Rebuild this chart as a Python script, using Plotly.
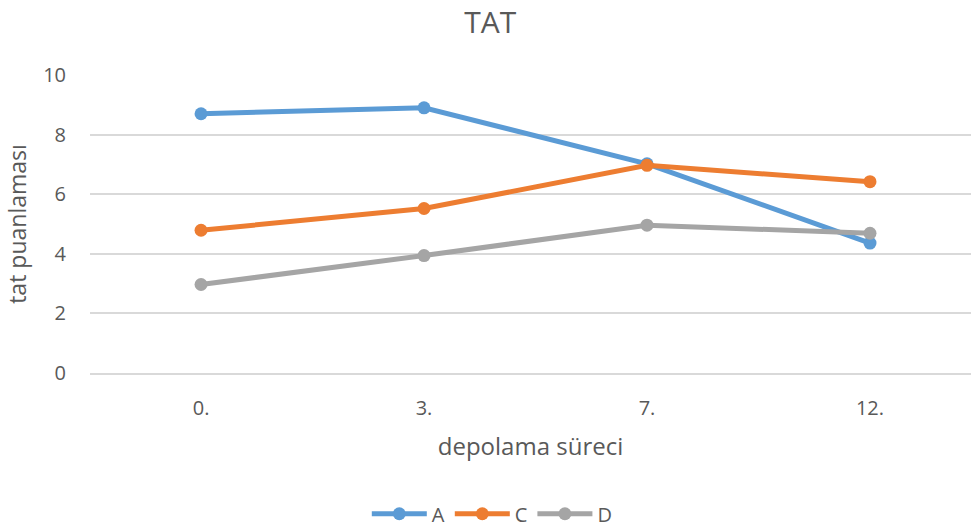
import plotly.graph_objects as go

# Storage periods (category labels) and taste scores per sample
periods = ["0.", "3.", "7.", "12."]
series_names = ["A", "C", "D"]
score_a = [8.70, 8.90, 7.02, 4.36]
score_c = [4.79, 5.52, 6.97, 6.42]
score_d = [2.97, 3.94, 4.96, 4.69]
y_ticks = [0, 2, 4, 6, 8, 10]

colors = ["#5B9BD5", "#ED7D31", "#A5A5A5"]
text_color = "#595959"
font_family = "Open Sans, Liberation Sans, DejaVu Sans, sans-serif"

fig = go.Figure()
for name, values, color in zip(series_names, [score_a, score_c, score_d], colors):
    fig.add_trace(go.Scatter(
        x=periods, y=values, name=name, mode="lines+markers",
        line=dict(color=color, width=5),
        marker=dict(color=color, size=13),
    ))

fig.update_layout(
    width=971, height=528,
    paper_bgcolor="white", plot_bgcolor="white",
    margin=dict(l=90, r=0, t=75, b=155, autoexpand=False),
    font=dict(family=font_family, color=text_color, size=20),
    title=dict(text="TAT", x=0.505, xanchor="center", y=0.958, yanchor="middle",
               font=dict(size=30, color=text_color)),
    showlegend=True,
    legend=dict(orientation="h", xref="container", yref="container",
                x=0.507, xanchor="center", y=0.027, yanchor="middle",
                font=dict(size=20, color=text_color), itemwidth=55,
                traceorder="normal"),
    hovermode=False,
)

fig.update_xaxes(
    type="category", categoryorder="array", categoryarray=periods,
    range=[-0.498, 3.453], automargin=False,
    showgrid=False, zeroline=False,
    showline=True, linecolor="#D9D9D9", linewidth=2,
    ticks="", ticklabelstandoff=16,
    tickfont=dict(size=20, color=text_color),
    title=dict(text="depolama süreci", standoff=18, font=dict(size=24, color=text_color)),
)

fig.update_yaxes(
    range=[0, 10], tickvals=y_ticks, automargin=False,
    showgrid=True, gridcolor="#D9D9D9", gridwidth=2,
    zeroline=False, showline=False,
    ticks="", ticklabelstandoff=23,
    tickfont=dict(size=20, color=text_color),
    title=dict(text="tat puanlaması", standoff=10, font=dict(size=23, color=text_color)),
)

fig.write_html("out.html")
